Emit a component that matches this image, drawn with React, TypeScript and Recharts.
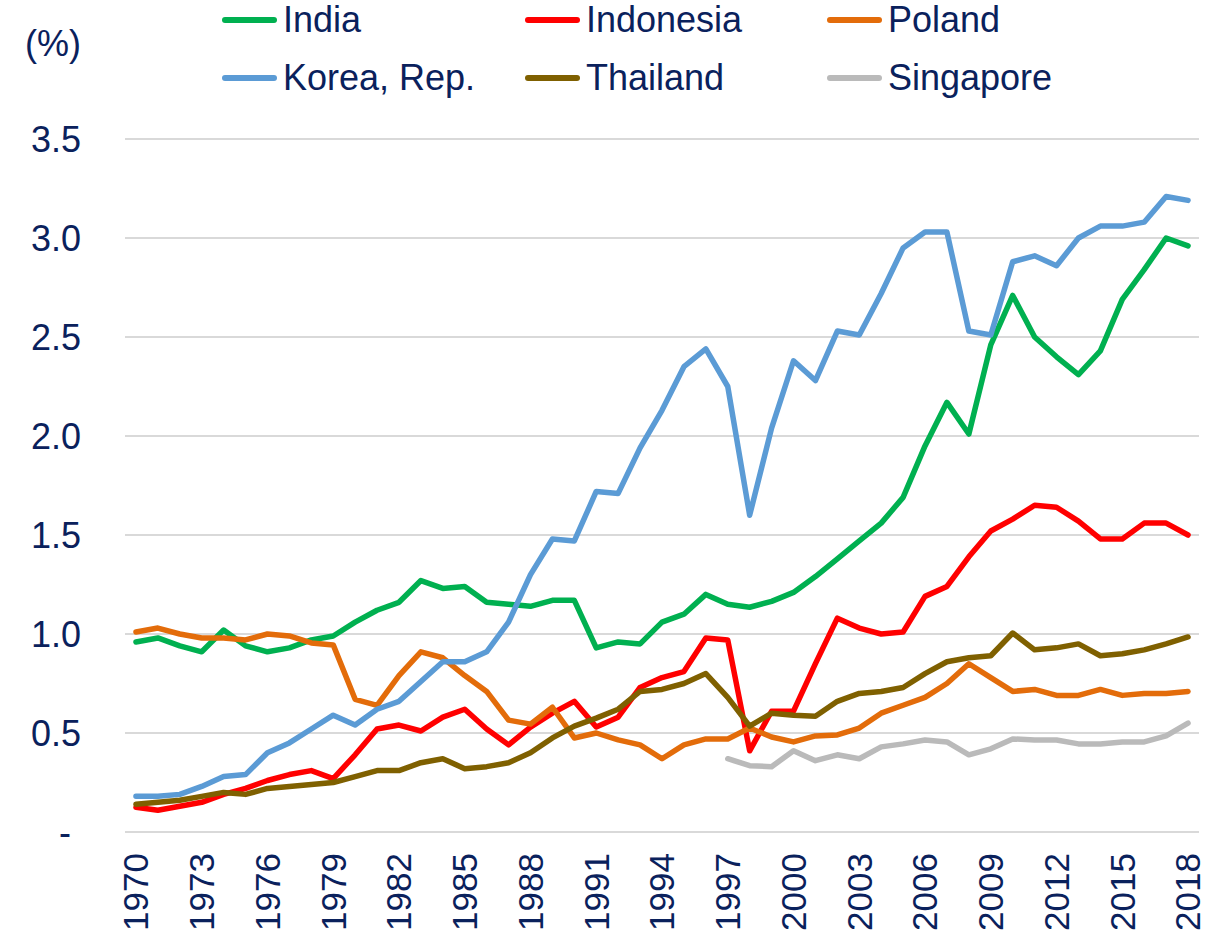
import { LineChart, Line, XAxis, YAxis, CartesianGrid } from "recharts";

const years = [
  1970, 1971, 1972, 1973, 1974, 1975, 1976, 1977, 1978, 1979,
  1980, 1981, 1982, 1983, 1984, 1985, 1986, 1987, 1988, 1989,
  1990, 1991, 1992, 1993, 1994, 1995, 1996, 1997, 1998, 1999,
  2000, 2001, 2002, 2003, 2004, 2005, 2006, 2007, 2008, 2009,
  2010, 2011, 2012, 2013, 2014, 2015, 2016, 2017, 2018,
];

const india = [
  0.96, 0.98, 0.94, 0.91, 1.02, 0.94, 0.91, 0.93, 0.97, 0.99,
  1.06, 1.12, 1.16, 1.27, 1.23, 1.24, 1.16, 1.15, 1.14, 1.17,
  1.17, 0.93, 0.96, 0.95, 1.06, 1.1, 1.2, 1.15, 1.135, 1.165,
  1.21, 1.29, 1.38, 1.47, 1.56, 1.69, 1.95, 2.17, 2.01, 2.46,
  2.71, 2.5, 2.4, 2.31, 2.43, 2.69, 2.84, 3.0, 2.96,
];

const korea = [
  0.18, 0.18, 0.19, 0.23, 0.28, 0.29, 0.4, 0.45, 0.52, 0.59,
  0.54, 0.62, 0.66, 0.76, 0.86, 0.86, 0.91, 1.06, 1.3, 1.48,
  1.47, 1.72, 1.71, 1.94, 2.13, 2.35, 2.44, 2.25, 1.6, 2.04,
  2.38, 2.28, 2.53, 2.51, 2.72, 2.95, 3.03, 3.03, 2.53, 2.51,
  2.88, 2.91, 2.86, 3.0, 3.06, 3.06, 3.08, 3.21, 3.19,
];

const indonesia = [
  0.125, 0.11, 0.13, 0.15, 0.19, 0.22, 0.26, 0.29, 0.31, 0.27,
  0.39, 0.52, 0.54, 0.51, 0.58, 0.62, 0.52, 0.44, 0.53, 0.6,
  0.66, 0.53, 0.58, 0.73, 0.78, 0.81, 0.98, 0.97, 0.41, 0.61,
  0.61, 0.85, 1.08, 1.03, 1.0, 1.01, 1.19, 1.24, 1.39, 1.52,
  1.58, 1.65, 1.64, 1.57, 1.48, 1.48, 1.56, 1.56, 1.5,
];

const poland = [
  1.01, 1.03, 1.0, 0.98, 0.98, 0.97, 1.0, 0.99, 0.955, 0.945,
  0.67, 0.64, 0.79, 0.91, 0.88, 0.79, 0.71, 0.565, 0.545, 0.63,
  0.475, 0.5, 0.465, 0.44, 0.37, 0.44, 0.47, 0.47, 0.525, 0.48,
  0.455, 0.485, 0.49, 0.525, 0.6, 0.64, 0.68, 0.75, 0.85, 0.78,
  0.71, 0.72, 0.69, 0.69, 0.72, 0.69, 0.7, 0.7, 0.71,
];

const thailand = [
  0.14, 0.15, 0.16, 0.18, 0.2, 0.19, 0.22, 0.23, 0.24, 0.25,
  0.28, 0.31, 0.31, 0.35, 0.37, 0.32, 0.33, 0.35, 0.4, 0.475,
  0.535, 0.575, 0.62, 0.71, 0.72, 0.75, 0.8, 0.68, 0.535, 0.6,
  0.59, 0.585, 0.66, 0.7, 0.71, 0.73, 0.8, 0.86, 0.88, 0.89,
  1.005, 0.92, 0.93, 0.95, 0.89, 0.9, 0.92, 0.95, 0.985,
];

// no data before 1997
const singapore = [
  null, null, null, null, null, null, null, null, null, null,
  null, null, null, null, null, null, null, null, null, null,
  null, null, null, null, null, null, null, 0.37, 0.335, 0.33,
  0.41, 0.36, 0.39, 0.37, 0.43, 0.445, 0.465, 0.455, 0.39, 0.42,
  0.47, 0.465, 0.465, 0.445, 0.445, 0.455, 0.455, 0.485, 0.55,
];

const yTicks = [0, 0.5, 1, 1.5, 2, 2.5, 3, 3.5];
const xTicks = [1970, 1973, 1976, 1979, 1982, 1985, 1988, 1991, 1994, 1997, 2000, 2003, 2006, 2009, 2012, 2015, 2018];

const series = [
  { key: "india", name: "India", color: "#00b050", values: india },
  { key: "indonesia", name: "Indonesia", color: "#ff0000", values: indonesia },
  { key: "poland", name: "Poland", color: "#e36c0a", values: poland },
  { key: "korea", name: "Korea, Rep.", color: "#5b9bd5", values: korea },
  { key: "thailand", name: "Thailand", color: "#7f6000", values: thailand },
  { key: "singapore", name: "Singapore", color: "#bababa", values: singapore },
];

const data = years.map((year, i) => {
  const row: Record<string, number | null> = { year };
  series.forEach((s) => {
    row[s.key] = s.values[i];
  });
  return row;
});

const TEXT = "#0a215c";
const FONT = "'Liberation Sans', Arial, sans-serif";

const YTick = (props: any) => {
  const { y, payload } = props;
  const isZero = payload.value === 0;
  return (
    <text
      x={isZero ? 71 : 81}
      y={y}
      dy="0.355em"
      textAnchor="end"
      fill={TEXT}
      fontSize={36}
      fontFamily={FONT}
    >
      {isZero ? "-" : payload.value.toFixed(1)}
    </text>
  );
};

const XTick = (props: any) => {
  const { x, payload } = props;
  return (
    <text
      transform={`translate(${x}, 853) rotate(-90)`}
      dy="0.355em"
      textAnchor="end"
      fill={TEXT}
      fontSize={35}
      fontFamily={FONT}
    >
      {payload.value}
    </text>
  );
};

const legendCols = [222, 525, 827];
const legendRows = [20, 78];

const App = () => {
  return (
    <div style={{ position: "absolute", left: 0, top: 0, width: 1227, height: 941, background: "#fff", fontFamily: FONT }}>
      <LineChart
        width={1227}
        height={941}
        data={data}
        margin={{ top: 139, right: 28, bottom: 0, left: 0 }}
      >
        <CartesianGrid vertical={false} stroke="#d9d9d9" strokeWidth={2} />
        <XAxis
          dataKey="year"
          type="number"
          domain={[1969.5, 2018.5]}
          ticks={xTicks}
          interval={0}
          height={109}
          axisLine={false}
          tickLine={false}
          tick={<XTick />}
        />
        <YAxis
          domain={[0, 3.5]}
          ticks={yTicks}
          width={125}
          axisLine={false}
          tickLine={false}
          tick={<YTick />}
        />
        {series.map((s) => (
          <Line
            key={s.key}
            dataKey={s.key}
            stroke={s.color}
            strokeWidth={5.5}
            dot={false}
            isAnimationActive={false}
            strokeLinejoin="round"
            strokeLinecap="round"
          />
        ))}
      </LineChart>

      {/* unit label */}
      <div style={{ position: "absolute", left: 25, top: 24, fontSize: 36, lineHeight: "40px", color: TEXT }}>(%)</div>

      {/* legend, 3 columns x 2 rows */}
      {series.map((s, i) => (
        <div
          key={s.key}
          style={{
            position: "absolute",
            left: legendCols[i % 3],
            top: legendRows[Math.floor(i / 3)] - 20,
            height: 40,
            display: "flex",
            alignItems: "center",
            color: TEXT,
            fontSize: 36,
            whiteSpace: "nowrap",
          }}
        >
          <span style={{ display: "inline-block", width: 55, height: 6, borderRadius: 3, background: s.color, marginRight: 6 }} />
          {s.name}
        </div>
      ))}
    </div>
  );
};

export default App;
